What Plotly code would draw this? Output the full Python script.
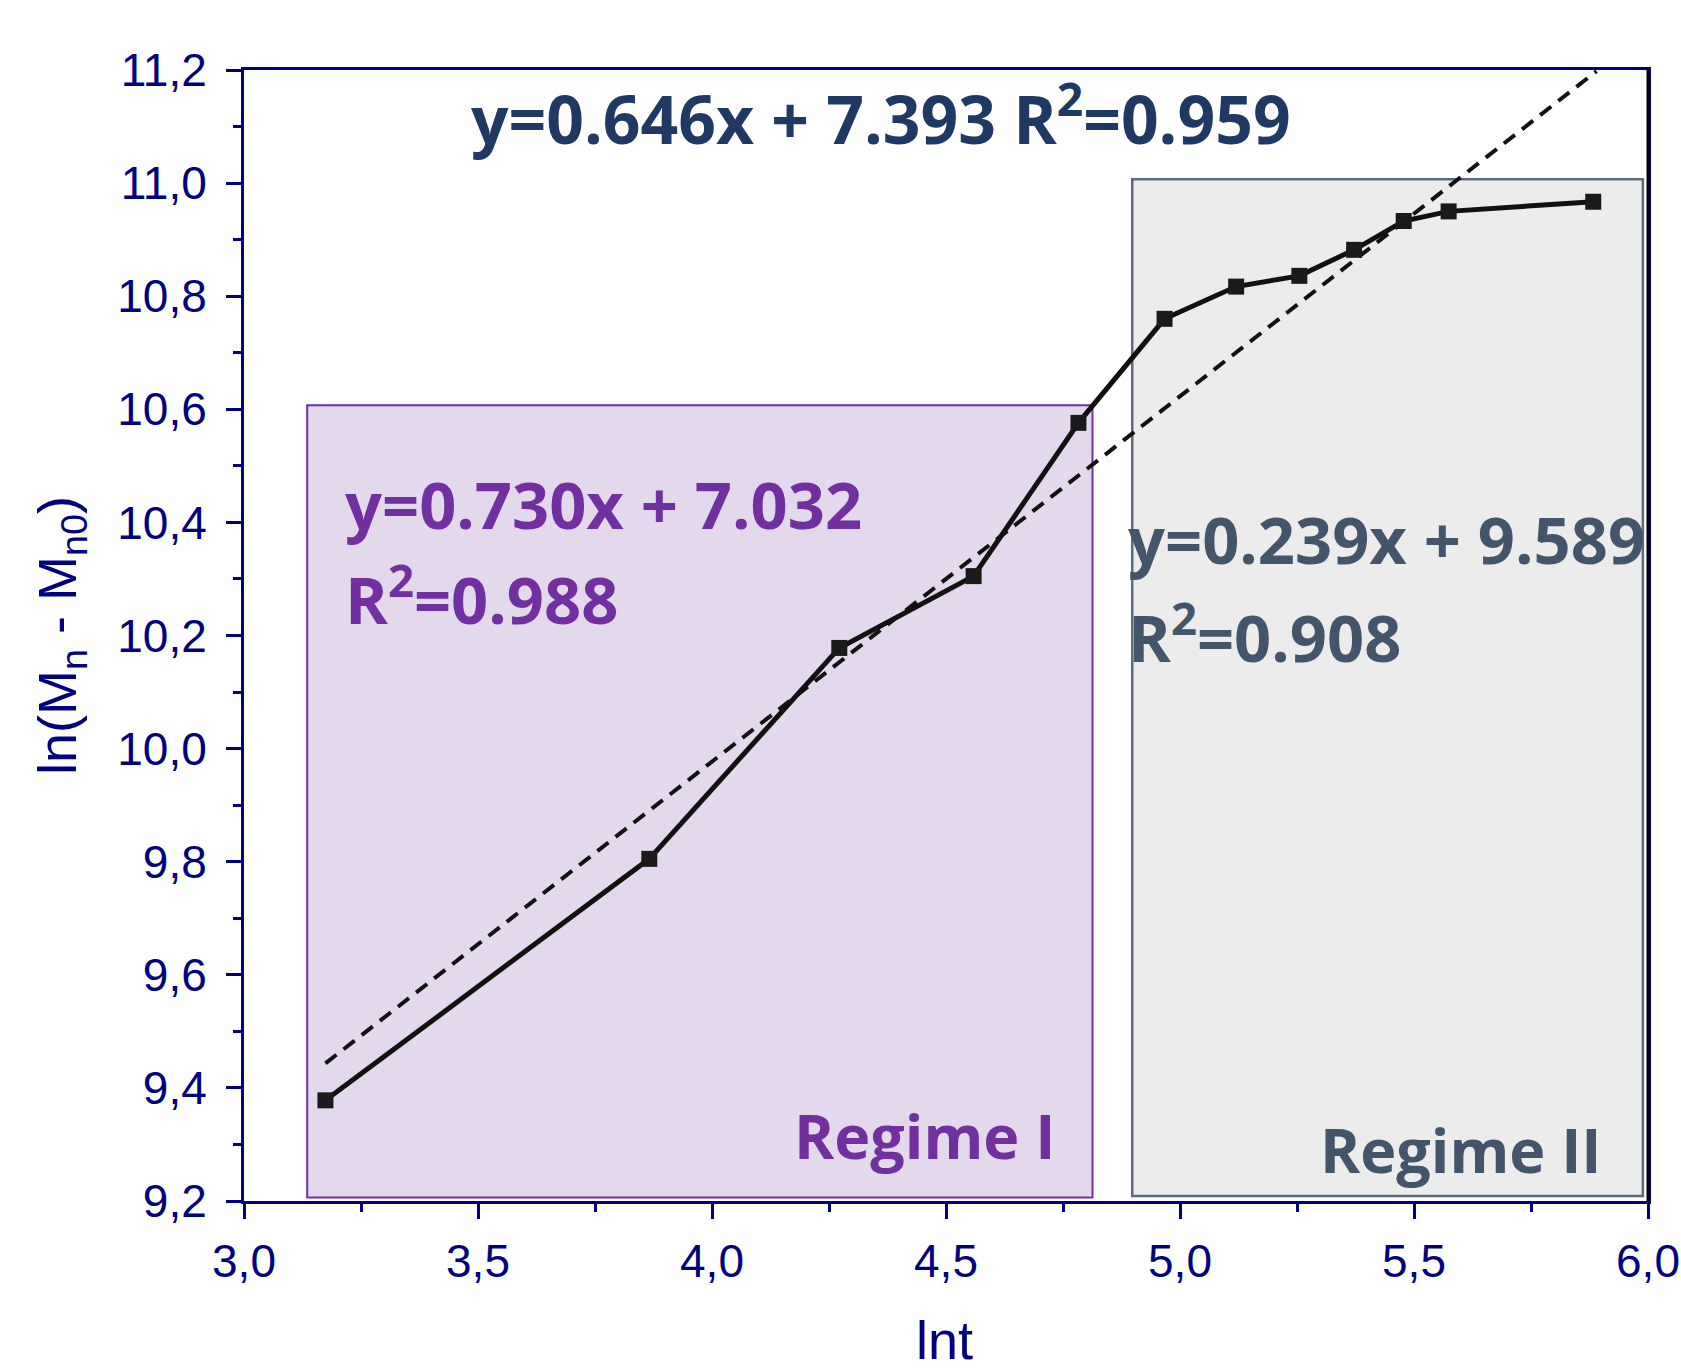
import plotly.graph_objects as go

# Data
lnt = [3.174, 3.866, 4.272, 4.559, 4.783, 4.967, 5.120, 5.255, 5.372, 5.478, 5.574, 5.883]
ln_mn = [9.378, 9.805, 10.178, 10.305, 10.576, 10.760, 10.817, 10.836, 10.882, 10.933, 10.950, 10.967]

fit_slope = 0.646
fit_intercept = 7.393
fit_x = [3.174, 5.89]
fit_y = [fit_slope * v + fit_intercept for v in fit_x]

regime1_x = [3.135, 4.813]
regime1_y = [9.206, 10.607]
regime2_x = [4.898, 5.989]
regime2_y = [9.209, 11.007]

x_range = [3.0, 6.0]
y_range = [9.2, 11.2]

NAVY = "#000080"
PURPLE = "#7030a0"
SLATE = "#44546a"
DARKBLUE = "#203864"

fig = go.Figure()

fig.add_shape(type="rect", xref="x", yref="y",
              x0=regime1_x[0], x1=regime1_x[1], y0=regime1_y[0], y1=regime1_y[1],
              fillcolor="#e4d9ec", line=dict(color=PURPLE, width=2), layer="below")
fig.add_shape(type="rect", xref="x", yref="y",
              x0=regime2_x[0], x1=regime2_x[1], y0=regime2_y[0], y1=regime2_y[1],
              fillcolor="#ececec", line=dict(color="#5d6b7d", width=2.5), layer="below")

fig.add_trace(go.Scatter(x=fit_x, y=fit_y, mode="lines",
                         line=dict(color="#111111", width=4, dash="14px,9px"),
                         showlegend=False, hoverinfo="skip"))
fig.add_trace(go.Scatter(x=lnt, y=ln_mn, mode="lines+markers",
                         line=dict(color="#111111", width=5),
                         marker=dict(symbol="square", size=16, color="#1a1a1a"),
                         showlegend=False))

bold = "Open Sans"
EQ = 65
fig.add_annotation(x=4.361, y=11.12, xref="x", yref="y", text="<b>y=0.646x + 7.393 R<sup>2</sup>=0.959</b>",
                   showarrow=False, font=dict(family=bold, size=66, color=DARKBLUE), xanchor="center", yanchor="middle")
fig.add_annotation(x=3.212, y=10.433, xref="x", yref="y", text="<b>y=0.730x + 7.032</b>",
                   showarrow=False, font=dict(family=bold, size=EQ, color=PURPLE), xanchor="left", yanchor="middle")
fig.add_annotation(x=3.212, y=10.27, xref="x", yref="y", text="<b>R<sup>2</sup>=0.988</b>",
                   showarrow=False, font=dict(family=bold, size=EQ, color=PURPLE), xanchor="left", yanchor="middle")
fig.add_annotation(x=4.885, y=10.371, xref="x", yref="y", text="<b>y=0.239x + 9.589</b>",
                   showarrow=False, font=dict(family=bold, size=EQ, color=SLATE), xanchor="left", yanchor="middle")
fig.add_annotation(x=4.885, y=10.203, xref="x", yref="y", text="<b>R<sup>2</sup>=0.908</b>",
                   showarrow=False, font=dict(family=bold, size=EQ, color=SLATE), xanchor="left", yanchor="middle")
fig.add_annotation(x=4.737, y=9.316, xref="x", yref="y", text="<b>Regime I</b>",
                   showarrow=False, font=dict(family=bold, size=61, color=PURPLE), xanchor="right", yanchor="middle")
fig.add_annotation(x=5.906, y=9.291, xref="x", yref="y", text="<b>Regime II</b>",
                   showarrow=False, font=dict(family=bold, size=61, color=SLATE), xanchor="right", yanchor="middle")

# x-axis title placed as an annotation for exact position
fig.add_annotation(x=0.499, y=-0.1225, xref="paper", yref="paper", text="lnt",
                   showarrow=False, font=dict(family="Liberation Sans, Arial", size=54, color=NAVY),
                   xanchor="center", yanchor="middle")

axis_common = dict(
    showline=True, linecolor=NAVY, linewidth=3, mirror=True,
    showgrid=False, zeroline=False, automargin=False,
    ticks="outside", ticklen=15, tickwidth=3, tickcolor=NAVY,
    tickfont=dict(family="Liberation Sans, Arial", size=46, color=NAVY),
    tickformat=".1f",
)

fig.update_xaxes(**axis_common, range=x_range, dtick=0.5, tick0=3.0,
                 ticklabelstandoff=3,
                 minor=dict(ticks="outside", ticklen=8, tickwidth=3, tickcolor=NAVY, dtick=0.25, tick0=3.0))
fig.update_yaxes(**axis_common, range=y_range, dtick=0.2, tick0=9.2,
                 ticklabelstandoff=10,
                 minor=dict(ticks="outside", ticklen=8, tickwidth=3, tickcolor=NAVY, dtick=0.1, tick0=9.2),
                 title=dict(text="ln(M<sub>n</sub> - M<sub>n0</sub>)", font=dict(family="Liberation Sans, Arial", size=54, color=NAVY), standoff=24))

# right frame edge drawn black as in the reference
fig.add_shape(type="line", xref="paper", yref="paper", x0=1, x1=1, y0=0, y1=1,
              line=dict(color="#000000", width=3))

fig.update_layout(
    width=1681, height=1369,
    margin=dict(l=244, r=33, t=70, b=168, pad=0),
    paper_bgcolor="white", plot_bgcolor="white",
    separators=",.",
    showlegend=False,
)

fig.write_html("out.html")
